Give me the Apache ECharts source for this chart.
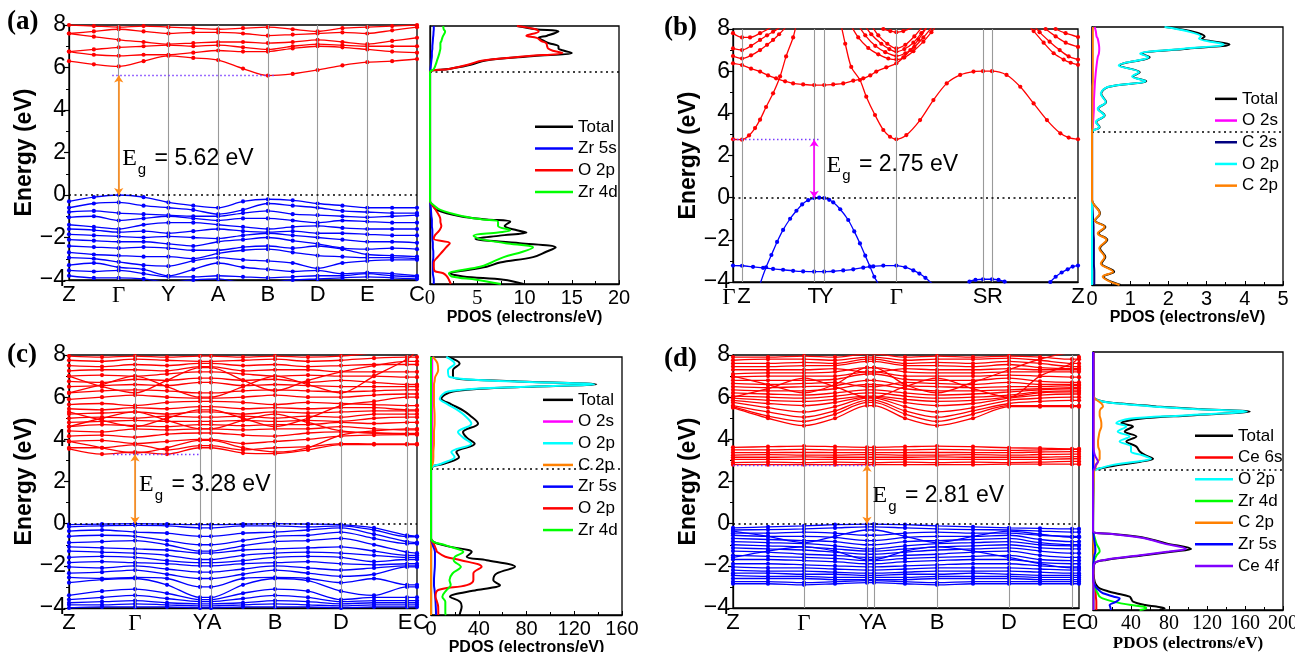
<!DOCTYPE html>
<html><head><meta charset="utf-8">
<script src="https://cdn.jsdelivr.net/npm/echarts@6/dist/echarts.min.js"></script>
<style>html,body{margin:0;padding:0;background:#fff}#c{width:1295px;height:652px}</style>
</head><body><div id="c"></div>
<script>
// ================= DATA =================
// ---- panel (a) band structure ----
const aKpos = [0,1,2,3,4,5,6,7];
const aKlab = ['Z','Γ','Y','A','B','D','E','C'];
const aK = [0,0.5,1,1.5,2,2.5,3,3.5,4,4.5,5,5.5,6,6.5,7];
const aCond = [
 [6.3,6.15,6.05,6.3,6.55,6.45,6.35,5.95,5.62,5.7,5.88,6.1,6.25,6.3,6.4],
 [6.75,6.6,6.55,6.6,6.6,6.7,6.8,6.75,6.75,6.9,7.0,6.95,6.85,6.75,6.7],
 [6.75,6.85,6.95,7.0,7.05,7.0,7.05,6.95,6.85,7.0,7.1,7.05,7.0,7.0,7.0],
 [7.6,7.45,7.3,7.2,7.1,7.15,7.2,7.2,7.15,7.2,7.3,7.2,7.1,7.25,7.4],
 [7.6,7.7,7.8,7.7,7.6,7.65,7.65,7.6,7.5,7.55,7.6,7.65,7.6,7.75,7.9],
 [8.0,7.95,7.9,7.95,7.9,7.85,7.8,7.85,7.9,7.8,7.7,7.85,7.9,7.95,8.0]
];
const aVal = [
 [-0.3,-0.1,0,-0.1,-0.35,-0.5,-0.6,-0.3,-0.2,-0.25,-0.4,-0.5,-0.6,-0.6,-0.6],
 [-0.6,-0.4,-0.35,-0.5,-0.6,-0.7,-0.9,-0.7,-0.4,-0.5,-0.6,-0.75,-0.8,-0.85,-0.85],
 [-0.8,-0.75,-0.85,-0.9,-0.95,-1.0,-1.0,-0.85,-0.75,-0.9,-0.95,-1.0,-1.05,-1.0,-0.95],
 [-1.05,-1.0,-1.2,-1.1,-1.0,-1.1,-1.2,-1.1,-1.1,-1.2,-1.3,-1.2,-1.25,-1.3,-1.3],
 [-1.4,-1.5,-1.6,-1.4,-1.3,-1.3,-1.4,-1.5,-1.6,-1.5,-1.45,-1.55,-1.6,-1.6,-1.6],
 [-1.6,-1.65,-1.75,-1.7,-1.8,-1.7,-1.6,-1.7,-1.75,-1.7,-1.8,-1.8,-1.85,-1.9,-1.9],
 [-1.85,-1.9,-1.95,-2.0,-1.95,-2.0,-2.05,-1.9,-1.8,-1.9,-2.0,-2.1,-2.2,-2.2,-2.25],
 [-2.1,-2.15,-2.2,-2.2,-2.3,-2.4,-2.2,-2.1,-2.0,-2.15,-2.3,-2.5,-2.55,-2.5,-2.55],
 [-2.4,-2.45,-2.5,-2.45,-2.5,-2.6,-2.6,-2.45,-2.4,-2.5,-2.4,-2.55,-2.8,-2.85,-2.9],
 [-2.7,-2.8,-2.85,-2.9,-2.9,-3.0,-2.75,-2.6,-2.55,-2.7,-2.85,-2.9,-2.95,-2.95,-3.0],
 [-2.95,-3.0,-3.15,-3.3,-3.35,-3.1,-2.95,-3.05,-3.1,-3.2,-3.45,-3.2,-3.1,-3.05,-3.05],
 [-3.3,-3.2,-3.4,-3.5,-3.8,-3.5,-3.2,-3.4,-3.5,-3.6,-3.55,-3.7,-3.65,-3.7,-3.8],
 [-3.55,-3.6,-3.55,-3.7,-3.85,-3.85,-3.8,-3.85,-3.9,-3.85,-3.8,-3.8,-3.7,-3.8,-3.85],
 [-3.8,-3.9,-3.9,-3.95,-4.1,-4.0,-3.95,-4.1,-4.1,-4.0,-3.95,-3.9,-3.85,-3.9,-3.95]
];
const aGap = [1, 5.62];          // k of arrow, CBM energy
const aCbmDots = [0.87, 4.17];   // k-range of dotted CBM marker

// ---- panel (a) PDOS ----
const aE = [-4.0,-3.8,-3.65,-3.5,-3.4,-3.2,-3.0,-2.75,-2.5,-2.3,-2.1,-1.9,-1.75,-1.6,-1.5,-1.3,-1.1,-1.0,-0.85,-0.55,-0.3,-0.15,
            5.85,6.0,6.2,6.4,6.6,6.75,6.85,6.95,7.05,7.2,7.3,7.45,7.55,7.75,7.85,8.0];
const aTotal = [9.9,7.8,3.5,2.1,3.2,6.0,7.4,10.9,12.3,13.3,9.5,4.8,7.4,10.2,9.2,7.9,8.5,6.0,3.2,0.7,0.2,0,
                0,2.0,4.3,5.9,11.0,15.0,14.2,13.6,13.6,12.6,12.1,11.5,12.4,13.6,11.2,9.2];
const aZr5s = [0.4,0.4,0.35,0.3,0.3,0.3,0.3,0.35,0.35,0.3,0.3,0.25,0.25,0.25,0.25,0.2,0.2,0.2,0.15,0.1,0.05,0,
               0,0.05,0.1,0.15,0.2,0.2,0.22,0.25,0.25,0.28,0.3,0.32,0.35,0.38,0.4,0.4];
const aO2p = [2.2,2.0,1.8,1.4,0.5,0.4,0.4,0.8,1.3,1.7,2.1,0.4,0.5,0.8,1.0,1.2,1.1,1.1,1.0,0.6,0.2,0,
              0,2.0,4.0,5.6,10.5,14.0,13.0,12.5,12.4,12.3,11.8,11.3,10.2,11.5,11.2,9.2];
const aZr4d = [7.5,4.9,2.3,2.0,2.8,5.3,6.5,7.8,9.8,10.9,8.0,5.2,4.6,7.2,8.5,7.2,7.2,5.5,3.5,1.1,0.3,0,
               0,0.4,0.6,0.75,0.9,1.0,1.05,1.1,1.1,1.1,1.2,1.3,1.4,1.6,1.45,1.4];
const aPdosCbm = 5.86;

// ---- panel (b) band structure ----
const bKpos = [0,9,81,91,163,249.5,258.5,344.3];
const bKlab = ['Γ','Z','T','Y','Γ','S','R','Z'];
const bCond = [
 [[0,2.77],[9,2.75],[16,2.95],[22,3.3],[27,3.7],[33,4.3],[40,4.95],[47,5.75],[53,6.7],[60,7.6],[66,8.6],[81,9.6],[91,9.6],[105,8.6],[112,7.3],[118,6.2],[126.7,5.58],[133,4.79],[141.7,3.92],[150,3.21],[156.7,2.89],[163,2.77],[173,2.97],[186.7,3.68],[200,4.63],[213.3,5.42],[226.7,5.82],[240,5.98],[249.5,6.0],[258.5,6.0],[273,5.82],[286.7,5.26],[300,4.47],[313.3,3.68],[326.7,3.05],[335,2.85],[344.3,2.77]],
 [[0,6.37],[9,6.29],[18,6.12],[27,5.98],[35,5.8],[43,5.66],[52,5.52],[60,5.42],[70,5.37],[81,5.34],[91,5.34],[100,5.37],[110,5.42],[120,5.55],[130,5.66],[137,5.8],[143,5.98],[153,6.18],[163,6.37],[170,6.65],[177,7.0],[185,7.5],[193,8.05],[200,8.6]],
 [[0,6.72],[9,6.6],[18,6.75],[27,7.0],[34,7.25],[40,7.48],[46,7.75],[52,8.05],[58,8.4]],
 [[0,7.08],[9,7.0],[18,7.2],[27,7.48],[34,7.7],[40,7.87],[46,8.05],[52,8.3]],
 [[0,7.8],[9,7.6],[17,7.6],[27,7.8],[37,8.05],[45,8.3]],
 [[115,8.4],[125,7.6],[135,7.1],[145,6.8],[155,6.6],[163,6.55],[171,6.65],[180,6.95],[190,7.4],[198,7.85],[205,8.3]],
 [[122,8.4],[132,7.7],[142,7.2],[152,6.9],[163,6.72],[172,6.85],[181,7.15],[190,7.6],[198,8.05],[205,8.4]],
 [[128,8.4],[138,7.75],[148,7.3],[156,7.05],[163,6.92],[171,7.05],[180,7.35],[188,7.8],[195,8.2]],
 [[135,8.4],[145,7.7],[154,7.3],[163,7.08],[172,7.25],[181,7.65],[188,8.05],[194,8.4]],
 [[140,8.3],[150,8.0],[157,7.9],[163,7.85],[170,7.9],[178,8.05],[186,8.3]],
 [[290,8.4],[300,7.9],[310,7.35],[320,6.85],[330,6.55],[337,6.4],[344.3,6.3]],
 [[296,8.4],[306,7.85],[316,7.4],[326,7.0],[335,6.7],[344.3,6.55]],
 [[302,8.4],[312,8.0],[322,7.65],[332,7.35],[344.3,7.15]],
 [[312,8.3],[322,8.0],[332,7.8],[344.3,7.62]]
];
const bVal = [
 [[20,-5.2],[27,-4.1],[33,-3.3],[38.3,-2.72],[44,-2.1],[50,-1.53],[57,-1.0],[63.3,-0.62],[69,-0.32],[75,-0.12],[81,-0.02],[86,0],[91,-0.02],[96,-0.1],[100,-0.22],[107,-0.55],[115,-1.06],[121,-1.6],[126.7,-2.17],[132,-2.75],[136.7,-3.27],[141,-3.75],[145,-4.1],[150,-4.7]],
 [[0,-3.22],[9,-3.23],[20,-3.28],[30,-3.33],[40,-3.38],[50,-3.42],[60,-3.47],[70,-3.5],[81,-3.51],[91,-3.51],[100,-3.49],[110,-3.45],[120,-3.4],[130,-3.32],[140,-3.26],[150,-3.22],[163,-3.22],[172,-3.3],[180,-3.45],[186,-3.6],[192,-3.8],[198,-4.05],[205,-4.3]],
 [[230,-4.3],[236,-3.98],[242,-3.9],[249.5,-3.87],[258.5,-3.87],[265,-3.9],[271,-3.98],[278,-4.3]],
 [[312,-4.3],[316.7,-4.0],[322,-3.75],[328,-3.55],[334,-3.4],[339,-3.27],[344.3,-3.22]]
];
const bGap = [81, 2.75];
const bCbmDots = [0, 86];

// ---- panel (b) PDOS ----
const bE = [-4.0,-3.6,-3.38,-3.0,-2.7,-2.3,-1.9,-1.6,-1.3,-1.0,-0.67,-0.05,
            3.11,3.34,3.58,3.88,4.2,4.51,4.89,5.21,5.49,5.7,5.9,6.21,6.6,6.76,6.99,7.19,7.46,7.56,7.8,8.0];
const bTotal = [0.75,0.3,0.58,0.25,0.35,0.21,0.4,0.17,0.35,0.08,0.21,0,
                0,0.2,0.11,0.33,0.16,0.37,0.24,0.42,1.42,1.07,1.25,0.72,1.51,1.29,2.5,3.6,2.88,2.95,2.6,1.92];
const bO2s = [0,0,0,0,0,0,0,0,0,0,0,0,
              0,0.02,0.03,0.04,0.05,0.05,0.06,0.07,0.08,0.09,0.1,0.12,0.15,0.18,0.19,0.18,0.15,0.12,0.1,0.07];
const bC2s = [0.06,0.06,0.06,0.05,0.05,0.05,0.05,0.04,0.04,0.03,0.02,0,
              0,0,0,0,0,0,0,0,0,0,0,0,0,0,0,0,0,0,0,0];
const bO2p = [0,0,0,0,0,0,0,0,0,0,0,0,
              0,0.19,0.1,0.32,0.15,0.36,0.23,0.41,1.4,1.05,1.23,0.7,1.48,1.26,2.4,3.45,2.8,2.85,2.5,1.9];
const bC2p = [0.72,0.28,0.55,0.23,0.33,0.19,0.38,0.15,0.33,0.07,0.2,0,
              0,0.01,0.01,0.01,0.01,0.01,0.01,0.01,0.02,0.02,0.02,0.02,0.02,0.02,0.02,0.02,0.02,0.02,0.02,0.02];
const bPdosCbm = 3.11;

// ---- panel (c) band structure ----
const cKpos = [0,66,131,142,206,272,338,348];
const cKlab = ['Z','Γ','Y','A','B','D','E','C'];
const cK = [0,33,66,98,131,142,174,206,239,272,305,338,348];
const cCond = [
 [3.55,3.3,3.4,3.3,3.6,3.6,3.35,3.32,3.5,3.75,3.75,3.75,3.75],
 [3.6,3.6,3.75,3.5,3.7,3.7,3.5,3.6,3.65,3.8,3.78,3.78,3.78],
 [3.9,3.95,3.8,3.9,4.0,4.0,3.8,3.9,4.0,4.15,4.2,4.22,4.22],
 [4.15,4.2,4.1,4.25,4.3,4.3,4.2,4.15,4.3,4.35,4.3,4.28,4.28],
 [4.4,4.35,4.5,4.45,4.5,4.5,4.45,4.5,4.5,4.6,4.5,4.45,4.45],
 [4.6,4.7,4.65,4.6,4.7,4.7,4.65,4.7,4.7,4.8,4.75,4.8,4.8],
 [4.8,4.85,4.9,4.85,4.85,4.85,4.9,4.85,4.9,4.85,5.0,5.05,5.05],
 [5.0,5.05,5.0,5.1,5.05,5.05,5.1,5.0,5.1,5.05,5.2,5.2,5.2],
 [5.2,5.25,5.3,5.2,5.3,5.3,5.2,5.3,5.25,5.3,5.35,5.35,5.35],
 [5.45,5.4,5.5,5.45,5.55,5.55,5.45,5.5,5.45,5.5,5.5,5.4,5.4],
 [5.65,5.7,5.6,5.75,5.8,5.8,5.75,5.65,5.75,5.7,5.65,5.6,5.6],
 [5.9,6.0,6.1,6.0,5.95,5.95,6.0,6.1,6.0,6.0,6.1,6.15,6.15],
 [6.2,6.3,6.35,6.3,6.2,6.2,6.3,6.35,6.3,6.25,6.3,6.35,6.35],
 [6.5,6.55,6.6,6.55,6.7,6.7,6.55,6.6,6.55,6.5,6.5,6.5,6.5],
 [6.75,6.7,6.85,6.8,6.9,6.9,6.8,6.85,6.7,6.8,6.7,6.6,6.6],
 [7.0,7.05,7.0,7.1,7.2,7.2,7.1,7.0,7.05,7.0,7.0,6.95,6.95],
 [7.25,7.3,7.3,7.25,7.45,7.45,7.25,7.3,7.3,7.2,7.2,7.2,7.2],
 [7.5,7.45,7.55,7.5,7.6,7.6,7.5,7.55,7.45,7.5,7.55,7.55,7.55],
 [7.75,7.7,7.8,7.75,7.7,7.7,7.75,7.8,7.7,7.75,7.85,7.9,7.9],
 [7.95,7.9,7.95,7.9,7.95,7.95,7.9,7.95,7.9,7.95,8.1,8.2,8.2],
 [6.2,6.6,7.0,6.5,6.0,6.0,6.5,7.0,6.6,6.2,7.0,7.8,8.2],
 [7.0,6.5,6.2,6.8,7.4,7.4,6.8,6.3,6.8,7.2,7.5,7.7,7.7],
 [4.6,5.0,5.3,4.9,4.5,4.5,4.9,5.2,4.8,4.4,4.3,4.25,4.25],
 [5.3,4.9,4.6,5.0,5.4,5.4,5.0,4.6,5.0,5.6,5.8,6.0,6.0],
 [3.9,3.6,3.35,3.6,3.95,3.95,3.6,3.4,3.6,4.2,4.4,4.5,4.5]
];
const cVal = [
 [-0.05,-0.02,0,-0.02,-0.05,-0.05,-0.02,0,-0.02,-0.05,-0.2,-0.55,-0.6],
 [-0.15,-0.1,-0.08,-0.1,-0.2,-0.2,-0.1,-0.1,-0.15,-0.1,-0.3,-0.62,-0.62],
 [-0.35,-0.3,-0.4,-0.45,-0.6,-0.6,-0.45,-0.4,-0.3,-0.2,-0.5,-0.85,-0.9],
 [-0.6,-0.55,-0.6,-0.8,-1.0,-1.0,-0.8,-0.6,-0.55,-0.4,-0.7,-0.95,-0.95],
 [-0.9,-0.85,-0.8,-1.0,-1.3,-1.3,-1.05,-0.85,-0.8,-0.7,-1.0,-1.35,-1.4],
 [-1.1,-1.15,-1.2,-1.25,-1.4,-1.4,-1.25,-1.2,-1.15,-1.1,-1.3,-1.5,-1.5],
 [-1.3,-1.35,-1.4,-1.5,-1.7,-1.7,-1.5,-1.4,-1.35,-1.4,-1.5,-1.6,-1.6],
 [-1.6,-1.55,-1.6,-1.75,-1.85,-1.85,-1.75,-1.6,-1.55,-1.6,-1.8,-1.7,-1.7],
 [-1.85,-1.8,-1.85,-1.9,-2.0,-2.0,-1.9,-1.85,-1.8,-1.9,-1.95,-1.9,-1.9],
 [-2.05,-2.1,-2.0,-2.15,-2.3,-2.3,-2.15,-2.0,-2.1,-2.2,-2.1,-2.0,-2.0],
 [-2.35,-2.3,-2.2,-2.4,-2.6,-2.6,-2.4,-2.2,-2.35,-2.5,-2.4,-2.05,-2.05],
 [-2.55,-2.6,-2.55,-2.6,-3.0,-3.0,-2.6,-2.55,-2.6,-2.8,-2.6,-2.9,-2.9],
 [-2.8,-2.65,-2.6,-2.9,-3.5,-3.5,-2.9,-2.6,-2.7,-3.2,-3.4,-3.0,-3.0],
 [-3.4,-3.2,-3.1,-3.3,-3.6,-3.6,-3.3,-3.1,-3.2,-3.6,-3.5,-3.5,-3.5],
 [-3.6,-3.5,-3.4,-3.55,-3.7,-3.7,-3.55,-3.4,-3.5,-3.7,-3.65,-3.65,-3.65],
 [-3.75,-3.7,-3.65,-3.75,-3.8,-3.8,-3.75,-3.65,-3.7,-3.8,-3.75,-3.75,-3.75],
 [-3.85,-3.85,-3.8,-3.85,-3.9,-3.9,-3.85,-3.8,-3.85,-3.9,-3.85,-3.85,-3.85],
 [-4.0,-3.95,-3.95,-3.95,-4.0,-4.0,-3.95,-3.95,-3.95,-4.0,-3.95,-3.95,-3.95]
];
const cGap = [66, 3.28];
const cCbmDots = [44, 131];

// ---- panel (c) PDOS ----
const cE = [-4.0,-3.92,-3.61,-3.38,-3.15,-2.84,-2.61,-2.37,-2.07,-1.76,-1.45,-1.29,-1.06,-0.98,-0.75,-0.44,
            2.8,3.04,3.35,3.58,3.97,4.25,4.51,4.9,5.29,5.52,5.8,6.06,6.4,6.6,6.73,6.87,7.07,7.38,7.69,8.0];
const cTotal = [24,24.3,25.7,24.3,15.9,38.3,57.8,52.2,55,70.4,46.6,29.9,34.1,31.3,10.3,0,
                0,11.4,23.5,21.2,36.6,30,26.8,39.4,32.4,26.8,17,8.7,18.4,75,138.5,70,18.4,18.4,24.0,14.2];
const cO2s = [0,0,0,0,0,0,0,0,0,0,0,0,0,0,0,0,
              0,0.8,0.8,0.8,0.9,0.9,0.9,1.0,1.0,1.0,1.0,1.0,1.0,1.0,1.0,1.0,1.0,1.0,1.0,1.0];
const cO2pC = [0,0,0,0,0,0,0,0,0,0,0,0,0,0,0,0,
               0,8.7,19.8,17.0,33.8,27,22.6,33.8,28,22.6,14,7.3,14.2,72,137,66,15.6,14.2,19.8,12.8];
const cC2p = [0,0,0,0,0,0,0,0,0,0,0,0,0,0,0,0,
              0,1.5,2.0,2.0,2.5,2.5,2.5,3.0,3.0,2.8,2.5,2.5,2.5,2.5,2.5,3.0,3.5,6.0,5.5,1.5];
const cZr5s = [4.2,4.2,4.0,3.8,3.5,3.0,2.5,2.5,2.8,3.2,3.3,3.3,3.3,3.0,1.5,0,
               0,0,0,0,0,0,0,0,0,0,0,0,0,0,0,0,0,0,0,0];
const cO2pZ = [6.1,6.1,6.0,5.0,3.8,6.0,30,35.5,35.5,42.4,25,12,5,4.5,2.8,0,
               0,0,0,0,0,0,0,0,0,0,0,0,0,0,0,0,0,0,0,0];
const cZr4d = [12.5,12,12,12,9.5,13,16.5,15.5,18,25,19,20,27.1,25,12,0,
               0,0,0,0,0,0,0,0,0,0,0,0,0,0,0,0,0,0,0,0];
const cPdosCbm = 2.78;

// ---- panel (d) band structure ----
const dKpos = [0,71,134,141,204,276,339,346];
const dKlab = ['Z','Γ','Y','A','B','D','E','C'];
const dK = [0,35,71,102,134,141,172,204,240,276,307,339,346];
const dCond = [
 [5.5,5.0,4.65,5.0,5.6,5.6,5.0,4.65,5.0,5.55,5.55,5.55,5.55],
 [5.55,5.1,4.85,5.2,5.75,5.75,5.2,4.85,5.2,5.6,5.6,5.6,5.6],
 [5.6,5.3,5.05,5.35,5.85,5.85,5.35,5.05,5.35,5.7,5.8,5.85,5.85],
 [5.75,5.5,5.3,5.55,5.95,5.95,5.55,5.3,5.5,5.85,5.95,6.0,6.0],
 [5.85,5.7,5.6,5.75,6.0,6.0,5.75,5.6,5.7,5.95,6.1,6.15,6.15],
 [5.95,5.85,5.8,5.9,6.05,6.05,5.9,5.8,5.85,6.0,6.2,6.25,6.25],
 [6.05,6.0,5.95,6.05,6.2,6.2,6.05,5.95,6.0,6.1,6.25,6.3,6.3],
 [6.2,6.15,6.1,6.2,6.35,6.35,6.2,6.1,6.15,6.25,6.35,6.4,6.4],
 [6.35,6.3,6.3,6.4,6.6,6.6,6.4,6.3,6.3,6.35,6.4,6.45,6.45],
 [6.5,6.45,6.5,6.55,6.8,6.8,6.55,6.5,6.45,6.5,6.5,6.55,6.55],
 [6.65,6.6,6.65,6.7,6.5,6.5,6.7,6.65,6.6,6.7,6.6,6.6,6.6],
 [6.8,6.8,6.8,6.85,7.1,7.1,6.85,6.8,6.8,6.9,6.75,6.7,6.7],
 [6.95,7.0,7.0,7.0,7.2,7.2,7.0,7.0,7.0,7.05,7.0,6.95,6.95],
 [7.1,7.15,7.15,7.2,7.4,7.4,7.2,7.15,7.15,7.2,7.2,7.2,7.2],
 [7.3,7.3,7.3,7.35,7.2,7.2,7.35,7.3,7.3,7.35,7.3,7.3,7.3],
 [7.45,7.45,7.5,7.5,7.7,7.7,7.5,7.5,7.45,7.55,7.4,7.35,7.35],
 [7.6,7.6,7.65,7.6,7.8,7.8,7.6,7.65,7.6,7.7,7.6,7.45,7.45],
 [7.75,7.8,7.8,7.75,7.9,7.9,7.75,7.8,7.8,7.85,7.75,7.6,7.6],
 [7.9,7.9,7.95,7.9,8.05,8.05,7.9,7.95,7.9,7.95,7.9,7.8,7.8],
 [6.0,6.4,6.9,6.5,6.0,6.0,6.5,6.9,6.4,6.0,7.0,7.6,7.9],
 [7.0,6.6,6.2,6.6,7.4,7.4,6.6,6.2,6.7,7.3,7.8,8.1,8.1],
 [2.8,2.8,2.8,2.8,2.8,2.8,2.8,2.8,2.8,2.82,2.82,2.82,2.82],
 [2.9,2.92,2.9,2.92,2.9,2.9,2.92,2.9,2.92,2.9,2.92,2.95,2.95],
 [3.05,3.05,3.05,3.05,3.05,3.05,3.05,3.05,3.05,3.05,3.05,3.08,3.08],
 [3.15,3.15,3.17,3.15,3.15,3.15,3.15,3.17,3.15,3.15,3.15,3.18,3.18],
 [3.25,3.27,3.25,3.25,3.27,3.27,3.25,3.25,3.27,3.25,3.28,3.3,3.3],
 [3.37,3.37,3.38,3.37,3.37,3.37,3.37,3.38,3.37,3.37,3.4,3.42,3.42],
 [3.5,3.5,3.52,3.5,3.5,3.5,3.5,3.52,3.5,3.48,3.5,3.52,3.52],
 [3.62,3.65,3.68,3.65,3.62,3.62,3.65,3.68,3.65,3.6,3.58,3.55,3.55]
];
const dVal = [
 [-0.2,-0.15,-0.1,-0.05,-0.02,-0.02,-0.05,-0.1,-0.15,-0.2,-0.22,-0.25,-0.25],
 [-0.3,-0.28,-0.25,-0.2,-0.15,-0.15,-0.2,-0.25,-0.28,-0.3,-0.35,-0.4,-0.4],
 [-0.45,-0.45,-0.4,-0.45,-0.55,-0.55,-0.45,-0.4,-0.45,-0.45,-0.55,-0.6,-0.6],
 [-0.55,-0.6,-0.6,-0.65,-0.8,-0.8,-0.65,-0.6,-0.6,-0.55,-0.75,-0.85,-0.85],
 [-0.7,-0.75,-0.8,-0.85,-1.0,-1.0,-0.85,-0.8,-0.75,-0.7,-0.9,-1.0,-1.0],
 [-0.85,-0.9,-0.95,-1.05,-1.2,-1.2,-1.05,-0.95,-0.9,-0.85,-1.0,-1.05,-1.05],
 [-1.0,-1.05,-1.1,-1.2,-1.3,-1.3,-1.2,-1.1,-1.05,-1.0,-1.15,-1.2,-1.2],
 [-1.15,-1.2,-1.25,-1.35,-1.45,-1.45,-1.35,-1.25,-1.2,-1.15,-1.3,-1.4,-1.4],
 [-1.3,-1.35,-1.45,-1.5,-1.6,-1.6,-1.5,-1.45,-1.35,-1.3,-1.5,-1.6,-1.6],
 [-1.5,-1.55,-1.6,-1.65,-1.75,-1.75,-1.65,-1.6,-1.55,-1.5,-1.7,-1.75,-1.75],
 [-1.7,-1.7,-1.75,-1.8,-1.9,-1.9,-1.8,-1.75,-1.7,-1.7,-1.85,-1.9,-1.9],
 [-1.9,-1.9,-1.95,-2.0,-2.05,-2.05,-2.0,-1.95,-1.9,-1.9,-2.0,-2.05,-2.05],
 [-2.05,-2.1,-2.1,-2.15,-2.2,-2.2,-2.15,-2.1,-2.1,-2.1,-2.15,-2.2,-2.2],
 [-2.2,-2.25,-2.25,-2.3,-2.35,-2.35,-2.3,-2.25,-2.25,-2.25,-2.3,-2.35,-2.35],
 [-2.35,-2.35,-2.4,-2.4,-2.45,-2.45,-2.4,-2.4,-2.35,-2.4,-2.45,-2.45,-2.45],
 [-2.45,-2.5,-2.5,-2.55,-2.55,-2.55,-2.55,-2.5,-2.5,-2.5,-2.55,-2.55,-2.55],
 [-2.6,-2.6,-2.6,-2.65,-2.65,-2.65,-2.65,-2.6,-2.6,-2.6,-2.65,-2.65,-2.65],
 [-2.75,-2.75,-2.8,-2.75,-2.7,-2.7,-2.75,-2.8,-2.75,-2.75,-2.75,-2.75,-2.75],
 [-2.85,-2.85,-2.9,-2.85,-2.8,-2.8,-2.85,-2.9,-2.85,-2.85,-2.85,-2.85,-2.85],
 [-0.35,-0.6,-0.9,-0.6,-0.3,-0.3,-0.6,-0.9,-0.6,-0.35,-0.5,-0.65,-0.65],
 [-1.6,-1.3,-1.1,-1.3,-1.7,-1.7,-1.3,-1.1,-1.3,-1.6,-1.9,-2.1,-2.1]
];
const dGap = [134, 2.79];
const dCbmDots = [0, 141];

// ---- panel (d) PDOS ----
const dE = [-4.0,-3.92,-3.84,-3.77,-3.61,-3.46,-3.38,-3.22,-3.15,-2.99,-2.84,-2.68,-2.3,-1.83,-1.67,-1.44,-1.28,-1.16,-0.9,-0.66,-0.46,-0.35,
            2.44,2.6,2.75,2.9,3.03,3.2,3.37,3.6,3.84,4.07,4.3,4.54,4.69,4.89,5.05,5.23,5.35,5.47,5.6,5.7,5.83,6.0,8.0];
const dTotal = [70,75.4,66.7,55,42.1,40,38.6,24,17.5,7.0,3.5,1.8,0.5,1.8,14,56.1,85,103.3,77.2,56,21.1,0,
                1.0,10,28.1,50,63.2,55,49.2,45.7,35.1,45.7,33.4,42.1,29.9,49.2,101.8,165,110,66.7,30,10.5,1.8,0.5,0.5];
const dCe6s = [3.5,3.5,3.5,3.5,3.5,3.2,3.0,2.8,2.5,2.2,1.8,1.0,0.3,0.3,0.5,0.8,0.8,0.8,0.6,0.5,0.3,0,
               0.3,0.5,0.5,0.5,0.5,0.5,0.5,0.5,0.5,0.5,0.5,0.5,0.5,0.5,0.5,0.5,0.5,0.5,0.5,0.5,0.3,0.3,0.3];
const dO2p = [0.5,0.5,0.5,0.5,0.5,0.5,0.5,0.4,0.4,0.3,0.3,0.2,0,0.2,0.5,1.0,1.5,1.5,1.0,0.8,0.5,0,
              1.0,8,21,45,61,52,40,40,28,38.6,26,35,24.6,38,95,162,105,62,27,10,1.8,0,0];
const dZr4d = [49,56,52.6,40,21.1,10,7,5,4,2.5,1.8,0.5,0,0.3,1.5,4,7,6.5,3.5,2,0.5,0,
               0,0,0,0,0,0,0,0,0,0,0,0,0,0,0,0,0,0,0,0,0,0,0];
const dC2p = [0.5,0.5,0.5,0.5,0.5,0.5,0.5,0.4,0.4,0.3,0.3,0.2,0,0.2,0.4,0.6,0.8,0.8,0.6,0.5,0.3,0,
              1.0,2.5,3.5,5,7,7,7,5.5,5.3,6,7,8.8,8.8,8,7,7,8,10.5,9,6,2,0,0];
const dZr5s = [19,18.5,18,17.5,24.6,28.1,22,10.5,8,4,1.8,0.5,0,0.3,0.8,1.5,2.5,2.5,1.8,1,0.5,0,
               0,0,0,0,0,0,0,0,0,0,0,0,0,0,0,0,0,0,0,0,0,0,0];
const dCe4f = [0.5,0.5,0.5,0.5,0.5,0.5,0.5,0.5,0.5,0.5,0.5,0.3,0.2,1.5,12,52,80,98,74,54,20,0,
               0,1.8,3,5.3,4,2,1,0.5,0.5,0.5,0.5,0.5,0.5,0.5,0.5,0.5,0.5,0.5,0.5,0.5,0.5,0.5,0.5];
const dPdosCbm = 2.51;

// ---- axis ranges / ticks ----
const energyRange = [-4, 8];
const energyStep = 2;
const pdosMax = [20, 5, 160, 200];
const pdosStep = [5, 1, 40, 40];
const egLabels = ['5.62', '2.75', '3.28', '2.81'];

// ================= STYLE / LAYOUT =================
const SANS = '"Liberation Sans", Arial, sans-serif';
const SERIF = '"Liberation Serif", "Times New Roman", serif';
const RED = '#ff0000', BLUE = '#0000ff';

const grids = [
  {left:69,  top:25,  width:348, height:255},   // a band
  {left:430, top:26,  width:189, height:258},   // a pdos
  {left:733, top:29,  width:345, height:253},   // b band
  {left:1092,top:27,  width:191, height:258},   // b pdos
  {left:69,  top:355, width:348, height:253},   // c band
  {left:431, top:357, width:191, height:258},   // c pdos
  {left:733, top:355, width:346, height:253},   // d band
  {left:1093,top:352, width:190, height:258}    // d pdos
].map(g => Object.assign({show:true, borderColor:'#000', borderWidth:1.3, backgroundColor:'rgba(0,0,0,0)', containLabel:false, outerBoundsMode:'none'}, g));

function nearestIdx(arr, v){ let b=0; arr.forEach((a,i)=>{ if (Math.abs(a-v) < Math.abs(arr[b]-v)) b=i; }); return b; }
const minus = (v) => String(v).replace('-', '\u2212');

// joinIdx: index of a tick label that is drawn together with the next one (two points too close)
function kAxis(g, kpos, klab, shifts, joinIdx){
  const rich = {};
  klab.forEach((l,i)=>{
    const s = shifts[i] || 0;
    rich['k'+i] = {fontSize: l==='Γ'?23:22, fontFamily: l==='Γ'?SERIF:SANS, color:'#000',
      padding: s>0 ? [0,0,0,2*s] : (s<0 ? [0,-2*s,0,0] : [0,0,0,0])};
  });
  const shown = kpos.filter((k,i)=> joinIdx === undefined || i !== joinIdx + 1);
  return {gridIndex:g, type:'value', min:kpos[0], max:kpos[kpos.length-1],
    axisLine:{show:true, onZero:false, lineStyle:{color:'#000', width:1.3}}, axisTick:{show:false}, minorTick:{show:false},
    splitLine:{show:false},
    axisLabel:{show:true, customValues:shown, hideOverlap:false, showMinLabel:true, showMaxLabel:true, margin:4, color:'#000',
      formatter:(v)=>{
        const i = nearestIdx(kpos, v);
        let s = '{k'+i+'|'+klab[i]+'}';
        if (i === joinIdx) s += '{k'+(i+1)+'|'+klab[i+1]+'}';
        return s;
      }, rich}};
}
function eAxis(g, labels){
  const ax = {gridIndex:g, type:'value', min:energyRange[0], max:energyRange[1], interval:energyStep,
    axisLine:{show:true, onZero:false, lineStyle:{color:'#000', width:1.3}}, splitLine:{show:false}};
  if (labels){
    Object.assign(ax, {
      axisTick:{show:true, length:5, lineStyle:{color:'#000', width:1.2}},
      minorTick:{show:true, splitNumber:2, length:3, lineStyle:{color:'#000', width:1}},
      axisLabel:{show:true, fontSize:23, fontFamily:SANS, color:'#000', margin:3, formatter:minus},
      name:'Energy (eV)', nameLocation:'middle', nameGap:33,
      nameTextStyle:{fontSize:23, fontWeight:'bold', fontFamily:SANS, color:'#000'}});
  } else {
    Object.assign(ax, {axisTick:{show:false}, minorTick:{show:false}, axisLabel:{show:false}});
  }
  return ax;
}
function pAxis(g, max, step, labelStyle, nameStyle){
  return {gridIndex:g, type:'value', min:0, max, interval:step,
    axisLine:{show:true, onZero:false, lineStyle:{color:'#000', width:1.3}}, splitLine:{show:false},
    axisTick:{show:true, inside:true, length:4, lineStyle:{color:'#000'}},
    minorTick:{show:true, splitNumber:2, length:3, lineStyle:{color:'#000'}},
    axisLabel:Object.assign({show:true, margin:4, color:'#000', hideOverlap:false, showMinLabel:true, showMaxLabel:true}, labelStyle),
    name:'PDOS (electrons/eV)', nameLocation:'middle', nameGap:23,
    nameTextStyle:Object.assign({fontWeight:'bold', color:'#000'}, nameStyle)};
}

const xAxes = [
  kAxis(0, aKpos, aKlab, [0,0,0,0,0,0,0,0]),
  pAxis(1, pdosMax[0], pdosStep[0], {fontSize:20, fontFamily:SANS,
      formatter:(v)=> v<10 ? '{s|'+v+'}' : ''+v, rich:{s:{fontSize:21, fontFamily:SERIF, color:'#000'}}},
      {fontSize:16, fontFamily:SANS}),
  kAxis(2, bKpos, bKlab, [-4,2,0,2,0,-3,3,0]),
  pAxis(3, pdosMax[1], pdosStep[1], {fontSize:20, fontFamily:SANS}, {fontSize:16, fontFamily:SANS}),
  kAxis(4, cKpos, cKlab, [0,0,0,3,0,0,-2,4]),
  pAxis(5, pdosMax[2], pdosStep[2], {fontSize:20, fontFamily:SANS}, {fontSize:16, fontFamily:SANS}),
  kAxis(6, dKpos, dKlab, [0,0,-1,5,0,0,5,0], 6),
  pAxis(7, pdosMax[3], pdosStep[3], {fontSize:20, fontFamily:SERIF}, {fontSize:17, fontFamily:SERIF})
];
const yAxes = [eAxis(0,true), eAxis(1,false), eAxis(2,true), eAxis(3,false),
               eAxis(4,true), eAxis(5,false), eAxis(6,true), eAxis(7,false)];

const series = [];
function addBand(g, pts, color){
  series.push({type:'line', xAxisIndex:g, yAxisIndex:g, data:pts, color, smooth:0.3,
    symbol:'circle', symbolSize:4.2, showSymbol:true, showAllSymbol:true, clip:true, silent:true,
    lineStyle:{width:1.3, color}, itemStyle:{color}, z:3});
}
function addBandsK(g, ks, bands, color){ bands.forEach(b => addBand(g, ks.map((k,i)=>[k, b[i]]), color)); }
function addBandsPts(g, bands, color){ bands.forEach(b => addBand(g, b, color)); }

function levelLine(g, e, color, z){
  series.push({type:'line', xAxisIndex:g, yAxisIndex:g, data:[], silent:true, z,
    markLine:{silent:true, symbol:'none', animation:false, label:{show:false},
      data:[{yAxis:e}], lineStyle:{color, width:1.7, type:[2,3.5]}}});
}
function addDecor(g, kpos, gap, dots, arrowColor){
  const inner = kpos.slice(1, kpos.length-1);
  series.push({type:'line', xAxisIndex:g, yAxisIndex:g, data:[], silent:true, z:2,
    markLine:{silent:true, symbol:'none', animation:false, label:{show:false},
      data: inner.map(k=>({xAxis:k})), lineStyle:{color:'#9a9a9a', width:1.1, type:'solid'}}});
  levelLine(g, 0, '#000', 6);
  series.push({type:'line', xAxisIndex:g, yAxisIndex:g, data:[], silent:true, z:6,
    markLine:{silent:true, symbol:'none', animation:false, label:{show:false},
      data:[[{coord:[dots[0], gap[1]]},{coord:[dots[1], gap[1]]}]],
      lineStyle:{color:'#7a3cff', width:1.4, type:[1.5,2.5]}}});
  series.push({type:'line', xAxisIndex:g, yAxisIndex:g, data:[], silent:true, z:7,
    markLine:{silent:true, symbol:['arrow','arrow'], symbolSize:7, animation:false, label:{show:false},
      data:[[{coord:[gap[0], 0]},{coord:[gap[0], gap[1]]}]],
      lineStyle:{color:arrowColor, width:1.6, type:'solid'}}});
}
function addEg(g, pos, txt){
  series.push({type:'scatter', xAxisIndex:g, yAxisIndex:g, data:[pos], symbolSize:0, silent:true, z:8,
    itemStyle:{color:'#000', opacity:1},
    label:{show:true, position:[0,0], align:'left', verticalAlign:'top', color:'#000', opacity:1,
      textBorderWidth:0, textShadowBlur:0,
      formatter:'{e|E}{g|g}{t| = '+txt+' eV}',
      rich:{e:{fontFamily:SERIF, fontSize:24, color:'#000', verticalAlign:'top', lineHeight:27},
            g:{fontFamily:SANS, fontSize:15, color:'#000', verticalAlign:'top', lineHeight:27, padding:[15,2,0,1]},
            t:{fontFamily:SANS, fontSize:23, color:'#000', verticalAlign:'top', lineHeight:27}}}});
}
function addPdos(g, name, E, vals, color, z){
  series.push({type:'line', name, xAxisIndex:g, yAxisIndex:g, data:E.map((e,i)=>[vals[i], e]),
    color, smooth:0.35, symbol:'none', showSymbol:false, clip:true, silent:true,
    lineStyle:{width:2, color}, itemStyle:{color}, z});
}

// panel a
addDecor(0, aKpos, aGap, aCbmDots, '#ff8c1a');
addBandsK(0, aK, aCond, RED);
addBandsK(0, aK, aVal, BLUE);
addEg(0, [1.07, 2.25], egLabels[0]);
addPdos(1, 'Total#a', aE, aTotal, '#000000', 3);
addPdos(1, 'Zr 5s#a', aE, aZr5s, '#0000ff', 4);
addPdos(1, 'O 2p#a', aE, aO2p, '#ff0000', 5);
addPdos(1, 'Zr 4d#a', aE, aZr4d, '#00ff00', 6);
levelLine(1, aPdosCbm, '#000', 9);
// panel b
addDecor(2, bKpos, bGap, bCbmDots, '#ff00ff');
addBandsPts(2, bCond, RED);
addBandsPts(2, bVal, BLUE);
addEg(2, [93.4, 2.1], egLabels[1]);
addPdos(3, 'Total#b', bE, bTotal, '#000000', 3);
addPdos(3, 'O 2s#b', bE, bO2s, '#ff00ff', 4);
addPdos(3, 'C 2s#b', bE, bC2s, '#000080', 5);
addPdos(3, 'O 2p#b', bE, bO2p, '#00ffff', 6);
addPdos(3, 'C 2p#b', bE, bC2p, '#ff8000', 7);
levelLine(3, bPdosCbm, '#000', 9);
// panel c
addDecor(4, cKpos, cGap, cCbmDots, '#ff8c1a');
addBandsK(4, cK, cCond, RED);
addBandsK(4, cK, cVal, BLUE);
addEg(4, [70, 2.4], egLabels[2]);
addPdos(5, 'Total#c', cE, cTotal, '#000000', 3);
addPdos(5, 'O 2s#c', cE, cO2s, '#ff00ff', 4);
addPdos(5, 'O 2p#c', cE, cO2pC, '#00ffff', 5);
addPdos(5, 'C 2p#c', cE, cC2p, '#ff8000', 6);
addPdos(5, 'Zr 5s#c', cE, cZr5s, '#0000ff', 7);
addPdos(5, 'O 2p#c2', cE, cO2pZ, '#ff0000', 8);
addPdos(5, 'Zr 4d#c', cE, cZr4d, '#00ff00', 9);
levelLine(5, cPdosCbm, '#000', 9);
// panel d
addDecor(6, dKpos, dGap, dCbmDots, '#ff8c1a');
addBandsK(6, dK, dCond, RED);
addBandsK(6, dK, dVal, BLUE);
addEg(6, [139.6, 1.88], egLabels[3]);
addPdos(7, 'Total#d', dE, dTotal, '#000000', 3);
addPdos(7, 'Ce 6s#d', dE, dCe6s, '#ff0000', 4);
addPdos(7, 'O 2p#d', dE, dO2p, '#00ffff', 5);
addPdos(7, 'Zr 4d#d', dE, dZr4d, '#00ff00', 6);
addPdos(7, 'C 2p#d', dE, dC2p, '#ff8000', 7);
addPdos(7, 'Zr 5s#d', dE, dZr5s, '#0000ff', 8);
addPdos(7, 'Ce 4f#d', dE, dCe4f, '#8000ff', 9);
levelLine(7, dPdosCbm, '#000', 9);

function legendAt(names, left, top, w){
  return {data:names, left, top, orient:'vertical', icon:'rect', itemWidth:w, itemHeight:2.5, itemGap:0,
    padding:0, selectedMode:false, backgroundColor:'rgba(0,0,0,0)',
    textStyle:{fontSize:17, fontFamily:SANS, color:'#000', lineHeight:21.7},
    formatter:(n)=>n.split('#')[0]};
}

const option = {
  animation:false,
  textStyle:{fontFamily:SANS},
  grid: grids,
  xAxis: xAxes,
  yAxis: yAxes,
  legend:[
    legendAt(['Total#a','Zr 5s#a','O 2p#a','Zr 4d#a'], 535, 116, 38),
    legendAt(['Total#b','O 2s#b','C 2s#b','O 2p#b','C 2p#b'], 1215, 88, 22),
    legendAt(['Total#c','O 2s#c','O 2p#c','C 2p#c','Zr 5s#c','O 2p#c2','Zr 4d#c'], 543, 389, 30),
    legendAt(['Total#d','Ce 6s#d','O 2p#d','Zr 4d#d','C 2p#d','Zr 5s#d','Ce 4f#d'], 1195, 425, 38)
  ],
  graphic:[
    {type:'text', left:7,   top:9,   style:{text:'(a)', font:'bold 27px '+SERIF, fill:'#000'}},
    {type:'text', left:664, top:15,  style:{text:'(b)', font:'bold 27px '+SERIF, fill:'#000'}},
    {type:'text', left:7,   top:342, style:{text:'(c)', font:'bold 27px '+SERIF, fill:'#000'}},
    {type:'text', left:664, top:346, style:{text:'(d)', font:'bold 27px '+SERIF, fill:'#000'}}
  ],
  series
};
const chart = echarts.init(document.getElementById('c'), null, {renderer:'canvas'});
chart.setOption(option);
</script>
</body></html>
